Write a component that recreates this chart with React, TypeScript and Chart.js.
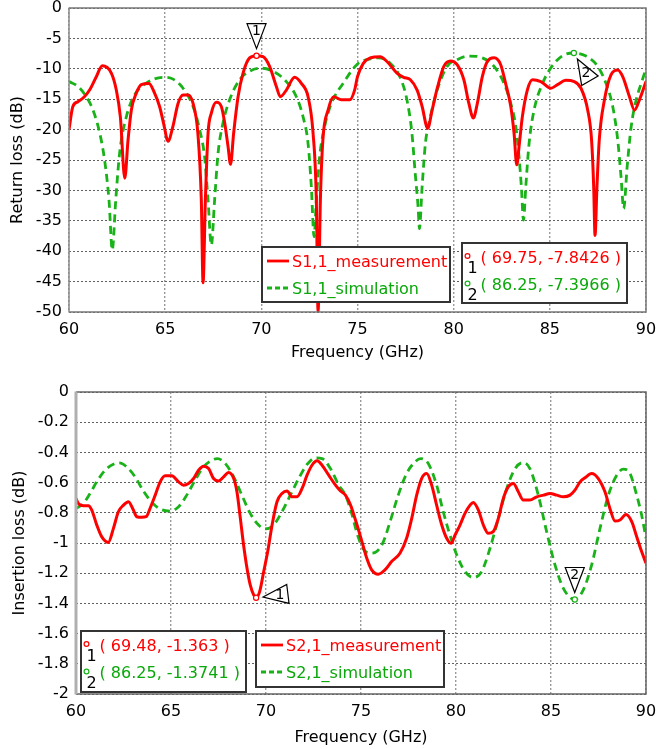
import React, { useEffect, useRef } from 'react';
import { Chart, registerables } from 'chart.js';

Chart.register(...registerables);

const FONT = '"DejaVu Sans", Verdana, sans-serif';
const RED = '#ff0000';
const GREEN = '#19b219';
const GREEN_TEXT = '#0aa80a';

// ---------- Return loss (S1,1) ----------
const s11MeasFreq = [60, 60.2, 60.47, 60.8, 61.07, 61.42, 61.73, 62.2, 62.46, 62.67, 62.9, 63.07, 63.24, 63.5, 63.76, 64.16, 64.45, 64.71, 64.92, 65.15, 65.4, 65.67, 65.93, 66.19, 66.45, 66.7, 66.88, 66.97, 67.09, 67.23, 67.4, 67.66, 67.92, 68.1, 68.27, 68.4, 68.56, 68.79, 69.05, 69.39, 69.75, 70.09, 70.43, 70.78, 70.99, 71.3, 71.73, 72.08, 72.43, 72.69, 72.86, 72.95, 73.07, 73.2, 73.47, 73.76, 74.16, 74.6, 74.85, 75.0, 75.3, 75.66, 76.18, 76.53, 77.05, 77.4, 77.75, 78.1, 78.36, 78.65, 78.88, 79.17, 79.49, 79.83, 80.18, 80.53, 80.79, 81.02, 81.23, 81.49, 81.75, 82.1, 82.44, 82.7, 82.97, 83.14, 83.28, 83.4, 83.57, 83.83, 84.1, 84.53, 85.05, 85.4, 85.83, 86.27, 86.62, 86.97, 87.17, 87.28, 87.35, 87.45, 87.57, 87.84, 88.18, 88.53, 88.79, 89.14, 89.4, 89.66, 90];
const s11MeasDb = [-20, -16.2, -15.4, -14.6, -13.5, -11.3, -9.5, -10.7, -13.5, -17.9, -28, -21.7, -16.8, -14, -12.6, -12.4, -14, -16.2, -19, -21.9, -19.5, -15.7, -14.3, -14.3, -15.7, -20.6, -31.6, -45.2, -31.6, -20.6, -17.3, -15.5, -16.2, -19, -22.8, -25.7, -20.6, -14.6, -10.7, -8.2, -7.84, -8.0, -9.6, -12.9, -14.6, -13.5, -11.4, -12.4, -14.6, -20.6, -31.6, -50, -31.6, -21.7, -16.8, -14.6, -15.1, -15.1, -13.5, -11.3, -9.1, -8.2, -8.0, -8.8, -10.7, -11.4, -11.8, -13.5, -16.2, -19.8, -16.8, -12.9, -9.6, -8.7, -9.3, -11.8, -15.7, -18.1, -15.7, -11.3, -8.8, -8.2, -9.3, -12.4, -16.2, -20.6, -25.8, -22.8, -17.9, -13.5, -11.8, -12.1, -13.2, -12.6, -11.9, -12.1, -13.2, -16.8, -21.7, -29.4, -37.4, -29.4, -21.7, -15.1, -11, -10.2, -11.3, -14.6, -16.8, -15.1, -12.1];

const s11SimFreq = [60, 60.47, 60.9, 61.25, 61.6, 61.85, 62.08, 62.25, 62.43, 62.63, 62.98, 63.41, 64.0, 64.89, 65.41, 65.93, 66.45, 66.8, 67.05, 67.23, 67.4, 67.57, 67.75, 68.0, 68.35, 68.87, 69.39, 70.0, 70.6, 71.3, 71.82, 72.17, 72.43, 72.6, 72.74, 72.86, 73.03, 73.29, 73.64, 74.25, 75.0, 75.49, 76.1, 76.7, 77.23, 77.57, 77.83, 78.0, 78.15, 78.22, 78.36, 78.53, 78.79, 79.14, 79.66, 80.18, 80.79, 81.49, 82.1, 82.62, 82.97, 83.23, 83.4, 83.52, 83.63, 83.75, 83.92, 84.18, 84.62, 85.23, 85.75, 86.25, 86.88, 87.49, 87.92, 88.27, 88.53, 88.7, 88.84, 89.02, 89.23, 89.49, 89.75, 90];
const s11SimDb = [-12.1, -12.9, -14.6, -16.8, -20.6, -25, -31.6, -39.8, -31.6, -23.9, -17.9, -14.3, -12.4, -11.4, -11.7, -13.2, -16.2, -20.1, -24.5, -31.6, -39, -31.6, -23.9, -19, -15.1, -11.8, -10.4, -9.9, -10.4, -12.1, -14.6, -17.9, -22.3, -29.4, -37.6, -31.6, -24.5, -19.5, -15.7, -12.4, -9.2, -8.5, -8.2, -9.1, -11.5, -15.1, -20.6, -27.2, -32.7, -36.3, -29.4, -22.3, -17.9, -13.5, -9.6, -8.5, -7.9, -8.2, -9.6, -12.4, -15.7, -19.5, -24.5, -29.4, -34.9, -29.4, -22.3, -16.8, -12.4, -9.1, -7.7, -7.4, -7.9, -9.6, -12.4, -16.2, -21.7, -27.7, -33, -26.1, -19.5, -15.1, -12.4, -10];

// ---------- Insertion loss (S2,1) ----------
const s21MeasFreq = [60, 60.12, 60.39, 60.65, 60.83, 61.09, 61.35, 61.7, 61.97, 62.23, 62.5, 62.76, 63.02, 63.2, 63.46, 63.69, 63.9, 64.17, 64.43, 64.69, 65.04, 65.4, 65.66, 65.92, 66.19, 66.45, 66.71, 66.98, 67.24, 67.5, 67.77, 68.03, 68.3, 68.47, 68.65, 68.82, 69.0, 69.17, 69.35, 69.48, 69.67, 69.88, 70.09, 70.32, 70.58, 70.84, 71.11, 71.37, 71.63, 71.9, 72.16, 72.42, 72.69, 72.95, 73.3, 73.66, 73.92, 74.18, 74.45, 74.71, 75.0, 75.3, 75.56, 75.91, 76.26, 76.61, 77.05, 77.4, 77.67, 77.93, 78.19, 78.46, 78.72, 78.98, 79.25, 79.51, 79.74, 79.95, 80.21, 80.47, 80.74, 80.91, 81.18, 81.44, 81.7, 81.96, 82.23, 82.49, 82.75, 83.02, 83.28, 83.54, 83.89, 84.25, 84.6, 84.95, 85.3, 85.65, 86.0, 86.26, 86.53, 86.79, 87.14, 87.49, 87.84, 88.1, 88.37, 88.63, 88.95, 89.25, 89.51, 89.77, 90];
const s21MeasDb = [-0.705, -0.738, -0.753, -0.753, -0.782, -0.88, -0.958, -0.996, -0.903, -0.793, -0.749, -0.727, -0.782, -0.826, -0.83, -0.826, -0.77, -0.683, -0.595, -0.555, -0.555, -0.595, -0.617, -0.606, -0.573, -0.518, -0.491, -0.507, -0.573, -0.59, -0.562, -0.533, -0.573, -0.661, -0.837, -1.013, -1.167, -1.278, -1.344, -1.363, -1.32, -1.189, -1.057, -0.881, -0.727, -0.672, -0.656, -0.694, -0.694, -0.639, -0.551, -0.485, -0.456, -0.485, -0.551, -0.617, -0.656, -0.683, -0.749, -0.848, -0.969, -1.1, -1.178, -1.207, -1.178, -1.123, -1.068, -0.969, -0.837, -0.683, -0.573, -0.54, -0.617, -0.749, -0.881, -0.969, -1.002, -0.947, -0.881, -0.804, -0.749, -0.731, -0.782, -0.881, -0.936, -0.925, -0.837, -0.705, -0.628, -0.606, -0.661, -0.716, -0.716, -0.694, -0.683, -0.672, -0.683, -0.694, -0.683, -0.65, -0.595, -0.568, -0.54, -0.573, -0.661, -0.771, -0.855, -0.848, -0.811, -0.859, -0.958, -1.057, -1.134];

const s21SimFreq = [60, 60.39, 60.74, 61.09, 61.53, 61.97, 62.28, 62.67, 63.11, 63.55, 63.99, 64.43, 64.96, 65.4, 65.83, 66.27, 66.71, 67.15, 67.45, 67.86, 68.3, 68.73, 69.17, 69.61, 69.96, 70.4, 70.84, 71.28, 71.72, 72.16, 72.6, 72.95, 73.39, 73.83, 74.18, 74.5, 74.8, 75.12, 75.47, 75.82, 76.18, 76.53, 76.96, 77.4, 77.84, 78.14, 78.54, 78.98, 79.33, 79.68, 80.04, 80.47, 80.91, 81.35, 81.79, 82.23, 82.67, 83.11, 83.54, 83.89, 84.33, 84.77, 85.21, 85.65, 86.25, 86.7, 87.14, 87.58, 88.02, 88.46, 88.81, 89.16, 89.51, 89.77, 90];
const s21SimDb = [-0.771, -0.738, -0.672, -0.595, -0.518, -0.478, -0.469, -0.496, -0.562, -0.656, -0.731, -0.775, -0.789, -0.76, -0.683, -0.584, -0.496, -0.452, -0.441, -0.474, -0.562, -0.683, -0.804, -0.881, -0.907, -0.881, -0.793, -0.683, -0.573, -0.48, -0.436, -0.441, -0.507, -0.617, -0.683, -0.8, -0.94, -1.04, -1.068, -1.057, -0.991, -0.859, -0.683, -0.54, -0.463, -0.441, -0.474, -0.617, -0.793, -0.947, -1.079, -1.189, -1.229, -1.189, -1.035, -0.837, -0.639, -0.507, -0.467, -0.507, -0.683, -0.925, -1.145, -1.3, -1.374, -1.311, -1.145, -0.903, -0.683, -0.551, -0.511, -0.54, -0.683, -0.815, -0.969];

// Markers
const s11Markers = [
  { label: '1', x: 69.75, y: -7.8426, color: RED, rot: 0 },
  { label: '2', x: 86.25, y: -7.3966, color: GREEN, rot: 150 },
];
const s21Markers = [
  { label: '1', x: 69.48, y: -1.363, color: RED, rot: 83 },
  { label: '2', x: 86.25, y: -1.3741, color: GREEN, rot: 0 },
];
const s11MarkerText = ['( 69.75, -7.8426 )', '( 86.25, -7.3966 )'];
const s21MarkerText = ['( 69.48, -1.363 )', '( 86.25, -1.3741 )'];
const s11Names = ['S1,1_measurement', 'S1,1_simulation'];
const s21Names = ['S2,1_measurement', 'S2,1_simulation'];

const xTicks = [60, 65, 70, 75, 80, 85, 90];

const toXY = (xs: number[], ys: number[]) => xs.map((x, i) => ({ x, y: ys[i] }));
const fmt = (v: number) => String(Math.round(Number(v) * 1000) / 1000).replace(/^-0$/, '0');

type Box = { x: number; y: number; w: number; h: number };

function drawBox(ctx: CanvasRenderingContext2D, b: Box) {
  ctx.save();
  ctx.fillStyle = '#ffffff';
  ctx.fillRect(b.x, b.y, b.w, b.h);
  ctx.strokeStyle = '#333333';
  ctx.lineWidth = 2;
  ctx.strokeRect(b.x, b.y, b.w, b.h);
  ctx.restore();
}

function makeOverlay(opts: {
  id: string;
  markers: typeof s11Markers;
  markerText: string[];
  names: string[];
  markerBox: Box;
  legendBox: Box;
  leftBorder: { color: string; width: number };
  frame: { color: string; width: number };
}) {
  return {
    id: opts.id,
    afterDraw(chart: any) {
      const ctx: CanvasRenderingContext2D = chart.ctx;
      const a = chart.chartArea;
      ctx.save();
      // frame
      ctx.strokeStyle = opts.frame.color;
      ctx.lineWidth = opts.frame.width;
      ctx.beginPath();
      ctx.moveTo(a.left, a.top);
      ctx.lineTo(a.right, a.top);
      ctx.lineTo(a.right, a.bottom);
      ctx.lineTo(a.left, a.bottom);
      ctx.stroke();
      ctx.strokeStyle = opts.leftBorder.color;
      ctx.lineWidth = opts.leftBorder.width;
      ctx.beginPath();
      ctx.moveTo(a.left, a.top - 0.5);
      ctx.lineTo(a.left, a.bottom + 0.5);
      ctx.stroke();

      // markers
      const xs = chart.scales.x;
      const ys = chart.scales.y;
      for (const m of opts.markers) {
        const px = xs.getPixelForValue(m.x);
        const py = ys.getPixelForValue(m.y);
        const r = (m.rot * Math.PI) / 180;
        ctx.save();
        ctx.translate(px, py);
        ctx.rotate(r);
        ctx.beginPath();
        ctx.moveTo(-9.5, -32);
        ctx.lineTo(9.5, -32);
        ctx.lineTo(0, -7);
        ctx.closePath();
        ctx.fillStyle = '#ffffff';
        ctx.fill();
        ctx.strokeStyle = '#000000';
        ctx.lineWidth = 1.2;
        ctx.stroke();
        ctx.restore();
        const tx = px + 24 * Math.sin(r);
        const ty = py - 24 * Math.cos(r);
        ctx.fillStyle = '#000000';
        ctx.font = `14px ${FONT}`;
        ctx.textAlign = 'center';
        ctx.textBaseline = 'middle';
        ctx.fillText(m.label, tx, ty);
        ctx.beginPath();
        ctx.arc(px, py, 2.6, 0, Math.PI * 2);
        ctx.fillStyle = '#ffffff';
        ctx.fill();
        ctx.strokeStyle = m.color;
        ctx.lineWidth = 1.2;
        ctx.stroke();
      }

      // marker readout box
      const mb = opts.markerBox;
      drawBox(ctx, mb);
      ctx.font = `16px ${FONT}`;
      ctx.textBaseline = 'middle';
      opts.markers.forEach((m, i) => {
        const dy = i * 27.5;
        ctx.beginPath();
        ctx.arc(mb.x + 5.5, mb.y + 13 + dy, 2.4, 0, Math.PI * 2);
        ctx.strokeStyle = m.color;
        ctx.lineWidth = 1.2;
        ctx.stroke();
        ctx.fillStyle = '#000000';
        ctx.textAlign = 'center';
        ctx.fillText(m.label, mb.x + 10.5, mb.y + 25.5 + dy);
        ctx.textAlign = 'left';
        ctx.fillStyle = i === 0 ? RED : GREEN_TEXT;
        ctx.fillText(opts.markerText[i], mb.x + 18.5, mb.y + 15.5 + dy);
      });

      // series legend box
      const lb = opts.legendBox;
      drawBox(ctx, lb);
      opts.names.forEach((name, i) => {
        const ly = lb.y + 14 + i * 27;
        ctx.beginPath();
        ctx.moveTo(lb.x + 5, ly);
        ctx.lineTo(lb.x + 27, ly);
        ctx.strokeStyle = i === 0 ? RED : GREEN;
        ctx.lineWidth = 2.8;
        ctx.setLineDash(i === 0 ? [] : [5, 3]);
        ctx.stroke();
        ctx.setLineDash([]);
        ctx.fillStyle = i === 0 ? RED : GREEN_TEXT;
        ctx.textAlign = 'left';
        ctx.fillText(name, lb.x + 30, ly + 1.5);
      });
      ctx.restore();
    },
  };
}

function buildConfig(p: {
  meas: { x: number; y: number }[];
  sim: { x: number; y: number }[];
  names: string[];
  yMin: number;
  yMax: number;
  yStep: number;
  yTitle: string;
  yWidth: number;
  xHeight: number;
  topPad: number;
  yTitlePad: number;
  xTitlePad: number;
  overlay: any;
}): any {
  return {
    type: 'line',
    data: {
      datasets: [
        {
          label: p.names[0],
          data: p.meas,
          borderColor: RED,
          borderWidth: 3,
          pointRadius: 0,
          cubicInterpolationMode: 'monotone',
          fill: false,
        },
        {
          label: p.names[1],
          data: p.sim,
          borderColor: GREEN,
          borderWidth: 2.8,
          borderDash: [8, 5],
          pointRadius: 0,
          cubicInterpolationMode: 'monotone',
          fill: false,
        },
      ],
    },
    options: {
      animation: false,
      responsive: false,
      devicePixelRatio: 1,
      events: [],
      layout: { padding: { left: 0, top: p.topPad, right: 10, bottom: 0 } },
      plugins: { legend: { display: false }, tooltip: { enabled: false }, title: { display: false } },
      scales: {
        x: {
          type: 'linear',
          min: 60,
          max: 90,
          afterBuildTicks: (s: any) => {
            s.ticks = xTicks.map((v) => ({ value: v }));
          },
          ticks: {
            callback: (v: any) => fmt(v),
            color: '#000',
            font: { family: FONT, size: 16 },
            padding: 8,
            maxRotation: 0,
          },
          grid: { color: '#9a9a9a', lineWidth: 1.4, drawTicks: false, borderDash: [2, 2] },
          border: { display: false, dash: [2, 2] },
          title: {
            display: true,
            text: 'Frequency (GHz)',
            color: '#000',
            font: { family: FONT, size: 16 },
            padding: { top: 0, bottom: p.xTitlePad },
          },
          afterFit: (s: any) => {
            s.height = p.xHeight;
            s.paddingLeft = 0;
            s.paddingRight = 0;
          },
        },
        y: {
          type: 'linear',
          min: p.yMin,
          max: p.yMax,
          ticks: {
            stepSize: p.yStep,
            callback: (v: any) => fmt(v),
            color: '#000',
            font: { family: FONT, size: 16 },
            padding: 7,
          },
          grid: { color: '#606060', lineWidth: 1, drawTicks: false, borderDash: [2, 2] },
          border: { display: false, dash: [2, 2] },
          title: {
            display: true,
            text: p.yTitle,
            color: '#000',
            font: { family: FONT, size: 16 },
            padding: { top: p.yTitlePad, bottom: 0 },
          },
          afterFit: (s: any) => {
            s.width = p.yWidth;
            s.paddingTop = 0;
            s.paddingBottom = 0;
          },
        },
      },
    },
    plugins: [p.overlay],
  };
}

function ChartCanvas({ width, height, build }: { width: number; height: number; build: () => any }) {
  const ref = useRef<HTMLCanvasElement>(null);
  useEffect(() => {
    const chart = new Chart(ref.current as HTMLCanvasElement, build());
    return () => chart.destroy();
  }, []);
  return <canvas ref={ref} width={width} height={height} style={{ display: 'block', width, height }} />;
}

export default function App() {
  const buildTop = () =>
    buildConfig({
      meas: toXY(s11MeasFreq, s11MeasDb),
      sim: toXY(s11SimFreq, s11SimDb),
      names: s11Names,
      yMin: -50,
      yMax: 0,
      yStep: 5,
      yTitle: 'Return loss (dB)',
      yWidth: 69,
      xHeight: 58,
      topPad: 8,
      yTitlePad: 8.4,
      xTitlePad: 7.4,
      overlay: makeOverlay({
        id: 'ovTop',
        markers: s11Markers,
        markerText: s11MarkerText,
        names: s11Names,
        markerBox: { x: 462, y: 243, w: 165, h: 60 },
        legendBox: { x: 262, y: 247, w: 188, h: 55 },
        leftBorder: { color: '#8a8a8a', width: 1.5 },
        frame: { color: '#777777', width: 1.5 },
      }),
    });
  const buildBottom = () =>
    buildConfig({
      meas: toXY(s21MeasFreq, s21MeasDb),
      sim: toXY(s21SimFreq, s21SimDb),
      names: s21Names,
      yMin: -2,
      yMax: 0,
      yStep: 0.2,
      yTitle: 'Insertion loss (dB)',
      yWidth: 76,
      xHeight: 55,
      topPad: 22,
      yTitlePad: 10.4,
      xTitlePad: 1.4,
      overlay: makeOverlay({
        id: 'ovBottom',
        markers: s21Markers,
        markerText: s21MarkerText,
        names: s21Names,
        markerBox: { x: 81, y: 261, w: 165, h: 61 },
        legendBox: { x: 256, y: 261, w: 188, h: 56 },
        leftBorder: { color: '#b0b0b0', width: 3 },
        frame: { color: '#666666', width: 1.5 },
      }),
    });
  return (
    <div style={{ position: 'absolute', left: 0, top: 0, width: 656, height: 749, background: '#fff' }}>
      <ChartCanvas width={656} height={370} build={buildTop} />
      <ChartCanvas width={656} height={379} build={buildBottom} />
    </div>
  );
}
